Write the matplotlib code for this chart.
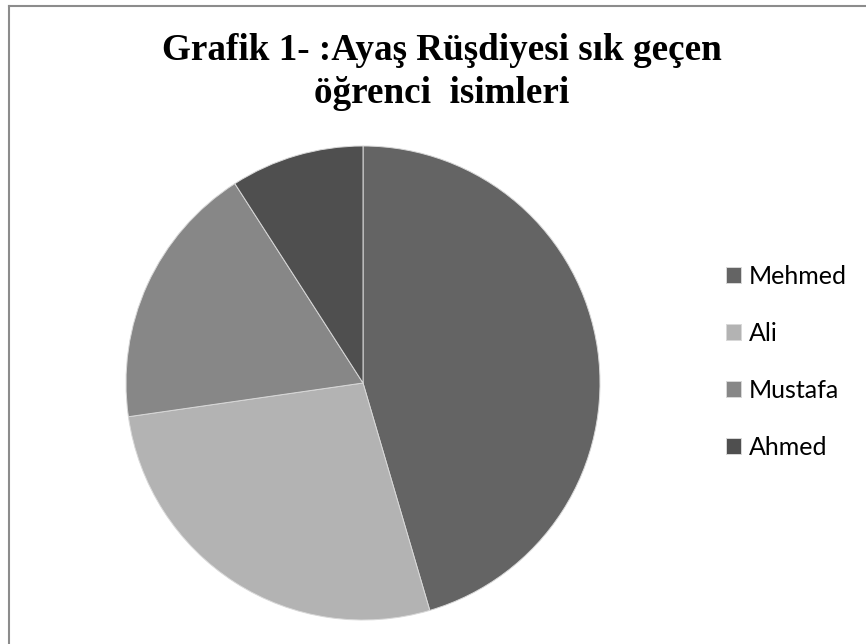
import matplotlib
matplotlib.use("Agg")
import matplotlib.pyplot as plt
from matplotlib.lines import Line2D

# data (shares ~45 / 27 / 18 / 9 %)
names = ['Mehmed', 'Ali', 'Mustafa', 'Ahmed']
counts = [50, 30, 20, 10]
colors = ['#646464', '#b3b3b3', '#878787', '#4f4f4f']
title_lines = ['Grafik 1- :Ayaş Rüşdiyesi sık geçen', 'öğrenci  isimleri']

W, H = 866, 644
fig = plt.figure(figsize=(W / 100, H / 100), dpi=100)

# pie placed in pixels: centre (363, 383), radius 237
cx, cy, r = 363, 383, 237
ax = fig.add_axes([(cx - r) / W, (H - cy - r) / H, 2 * r / W, 2 * r / H])
wedges, _ = ax.pie(counts, colors=colors, startangle=90, counterclock=False,
                   radius=1, wedgeprops=dict(edgecolor='#d8d8d8', linewidth=0.7))
ax.set_xlim(-1, 1)
ax.set_ylim(-1, 1)
ax.set_aspect('equal')
ax.axis('off')

# title, two lines, baselines at y=60 and y=103 px
for line, base in zip(title_lines, [60, 103]):
    fig.text(442 / W, 1 - base / H, line, ha='center', va='baseline',
             fontsize=26.7, fontweight='bold', family='Liberation Serif')

fig.legend(wedges, names, loc='center left', bbox_to_anchor=(726 / W, 1 - 362 / H),
           bbox_transform=fig.transFigure, frameon=False, borderpad=0, borderaxespad=0,
           handlelength=0.6, handleheight=0.6, handletextpad=0.32, labelspacing=1.36,
           prop=dict(family='Lato', size=18))

# chart frame (only top and left edges are visible)
fig.add_artist(Line2D([8.5 / W, 8.5 / W], [0, 1 - 5.5 / H], transform=fig.transFigure,
                      color='#8c8c8c', linewidth=1.5))
fig.add_artist(Line2D([8.5 / W, 1], [1 - 5.5 / H, 1 - 5.5 / H], transform=fig.transFigure,
                      color='#8c8c8c', linewidth=1.5))

fig.savefig('out.png', dpi=100, facecolor='white')
